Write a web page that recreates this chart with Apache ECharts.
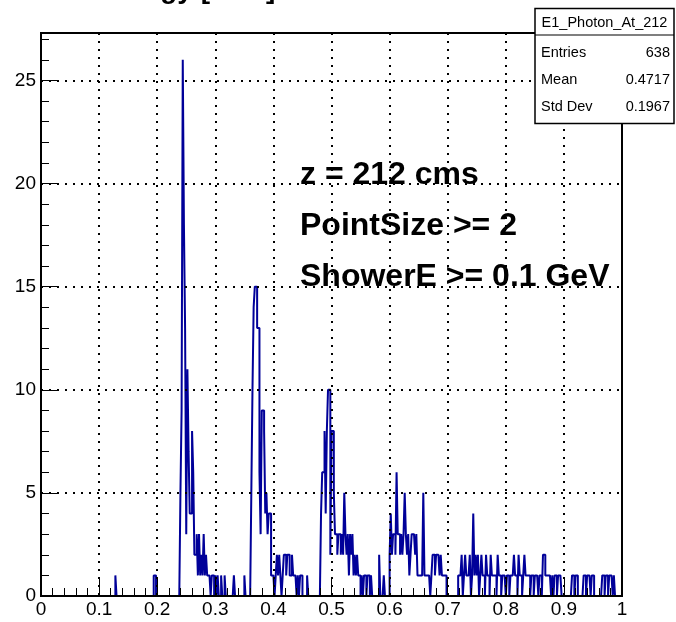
<!DOCTYPE html>
<html>
<head>
<meta charset="utf-8">
<script src="https://cdn.jsdelivr.net/npm/echarts@6/dist/echarts.min.js"></script>
<style>
  html, body { margin: 0; padding: 0; background: #fff; }
  #chart { width: 676px; height: 622px; }
</style>
</head>
<body>
<div id="chart"></div>
<script>
// Histogram E1_Photon_At_212: 500 bins of width 0.002 on [0, 1].
const binWidth = 0.002;
const nBins = 500;

// Isolated single entries: [bin index, count]
const lowBins = [[64, 1], [97, 1], [98, 1]];

// First peak (starts at bin 120, x = 0.240)
const peak1Start = 120;
const peak1Counts = [5, 9, 26, 18, 13, 3, 11, 7, 4, 4, 8, 6, 2, 2, 3, 1, 3, 1, 2, 1, 3, 1, 2, 1, 1, 1, 0, 1, 1];
const peak1Tail = [[150, 1], [152, 1], [155, 1], [158, 1], [166, 1], [175, 1]];

// Second peak (starts at bin 181, x = 0.362)
const peak2Start = 181;
const peak2Counts = [5, 10, 14, 15, 15, 13, 13, 6, 3, 9, 9, 8, 4, 5, 3, 4, 4, 1, 1, 1, 0, 1, 2, 1, 2, 1, 0, 1, 2, 2,
                     1, 2, 2, 1, 1, 2, 1, 1, 1, 0, 1, 0, 1, 1, 0, 0, 0, 0, 1];

// Third peak (starts at bin 241, x = 0.482)
const peak3Start = 241;
const peak3Counts = [4, 6, 6, 8, 4, 8, 10, 10, 2, 8, 8, 5, 3, 3, 2, 3, 3, 2, 3, 2, 5, 3, 2, 3, 1, 3, 2, 3, 1,
                     2, 1, 2, 1, 1, 0, 1, 0, 1, 1, 0, 1, 1, 0, 1, 0, 0, 0, 0, 0, 0, 2, 0, 0, 0, 1];

// Fourth peak (starts at bin 300, x = 0.600)
const peak4Start = 300;
const peak4Counts = [2, 4, 2, 3, 3, 2, 6, 3, 3, 2, 3, 2, 3, 5, 3, 2, 3, 1, 2, 3, 3, 3, 2, 3, 1, 1, 1, 1, 1, 5,
                     1, 1, 1, 1, 1, 0, 1, 2, 2, 1, 2, 2, 2, 1, 2, 1, 1, 1, 1];

// Flat high-energy region (starts at bin 359, x = 0.718)
const plateauStart = 359;
const plateauCounts = [1, 1, 1, 2, 0, 1, 2, 1, 1, 1, 2, 0, 1, 4, 1, 2, 1, 2, 0, 1, 2, 1, 1, 0, 2, 1, 1, 0, 2, 1,
                       1, 1, 1, 0, 2, 1, 1, 0, 1, 1, 1, 0, 1, 1, 0, 1, 1, 1, 2, 1, 1, 0, 2, 1, 1, 0, 1, 2, 1, 1, 1, 1];

// Sparse tail entries: [bin index, count]
const highTail = [[422, 1], [423, 1], [425, 1], [426, 1], [427, 1], [429, 1], [430, 1], [432, 2], [433, 2],
                  [434, 1], [435, 1], [436, 1], [437, 1], [438, 1], [440, 1], [442, 1], [443, 1], [445, 1],
                  [446, 1], [447, 1], [457, 1], [458, 1], [460, 1], [461, 1], [467, 1], [468, 1], [470, 1],
                  [471, 1], [472, 1], [474, 1], [475, 1], [483, 1], [484, 1], [486, 1], [487, 1], [489, 1],
                  [490, 1], [491, 1], [493, 1]];

// Axis ticks
const xTickLabels = ['0', '0.1', '0.2', '0.3', '0.4', '0.5', '0.6', '0.7', '0.8', '0.9', '1'];
const yTickValues = [0, 5, 10, 15, 20, 25];

// Statistics box contents
const statsTitle = 'E1_Photon_At_212';
const statsRows = [['Entries', '638'], ['Mean', '0.4717'], ['Std Dev', '0.1967']];

// Text annotations
const notes = ['z = 212 cms', 'PointSize >= 2', 'ShowerE >= 0.1 GeV'];

// Assemble per-bin counts
const counts = new Array(nBins).fill(0);
function putRun(start, arr) { arr.forEach((c, i) => { counts[start + i] = c; }); }
function putPairs(pairs) { pairs.forEach(([b, c]) => { counts[b] = c; }); }
putPairs(lowBins);
putRun(peak1Start, peak1Counts);
putPairs(peak1Tail);
putRun(peak2Start, peak2Counts);
putRun(peak3Start, peak3Counts);
putRun(peak4Start, peak4Counts);
putRun(plateauStart, plateauCounts);
putPairs(highTail);

// Step outline: each point is a bin's low edge with its count
const outline = counts.map((c, i) => [+(i * binWidth).toFixed(4), c]);
outline.push([1, 0]);

const FONT = '"Liberation Sans", Arial, Helvetica, sans-serif';
const dotted = { color: '#000', width: 2, type: [2, 6] };
const TOP = 100;

const chart = echarts.init(document.getElementById('chart'), null, { renderer: 'canvas' });
chart.setOption({
  animation: false,
  backgroundColor: '#fff',
  grid: {
    left: 41, top: 33, right: 54, bottom: 26,
    show: true, borderColor: '#000', borderWidth: 2, backgroundColor: 'transparent'
  },
  xAxis: {
    type: 'value', min: 0, max: 1, interval: 0.1, z: 5,
    axisLine: { show: true, onZero: false, lineStyle: { color: '#000', width: 2 } },
    axisTick: { show: true, inside: true, length: 17, lineStyle: { color: '#000', width: 1 } },
    minorTick: { show: true, splitNumber: 5, length: 8, lineStyle: { color: '#000', width: 1 } },
    splitLine: { show: true, lineStyle: dotted },
    axisLabel: {
      margin: 4, color: '#000', fontSize: 19, fontFamily: FONT,
      formatter: (v) => xTickLabels[Math.round(v * 10)] || ''
    }
  },
  yAxis: {
    type: 'value', min: 0, max: 27.3, interval: 5, z: 5,
    axisLine: { show: true, onZero: false, lineStyle: { color: '#000', width: 2 } },
    axisTick: { show: true, inside: true, length: 17, lineStyle: { color: '#000', width: 1 } },
    minorTick: { show: true, splitNumber: 5, length: 8, lineStyle: { color: '#000', width: 1 } },
    splitLine: { show: true, lineStyle: dotted },
    axisLabel: {
      margin: 5, color: '#000', fontSize: 19, fontFamily: FONT,
      formatter: (v) => (yTickValues.indexOf(v) >= 0 ? String(v) : '')
    }
  },
  series: [{
    type: 'line',
    step: 'end',
    data: outline,
    symbol: 'none',
    silent: true,
    z: 2,
    lineStyle: { color: '#000099', width: 2 }
  }],
  graphic: [
    {
      type: 'text', left: 98, top: -24, z: TOP,
      style: { text: 'Energy [GeV]', font: 'bold 28px ' + FONT, fill: '#000' }
    },
    ...notes.map((t, i) => ({
      type: 'text', x: 300, y: 175 + i * 51, z: TOP,
      style: { text: t, font: 'bold 32px ' + FONT, fill: '#000', verticalAlign: 'middle' }
    })),
    { type: 'rect', z: TOP, shape: { x: 535, y: 8.5, width: 139, height: 115 },
      style: { fill: '#fff', stroke: '#000', lineWidth: 1.5 } },
    { type: 'line', z: TOP + 1, shape: { x1: 535, y1: 35, x2: 674, y2: 35 },
      style: { stroke: '#000', lineWidth: 1.2 } },
    { type: 'text', z: TOP + 1, x: 604.5, y: 22.5,
      style: { text: statsTitle, font: '14.5px ' + FONT, fill: '#000', align: 'center', verticalAlign: 'middle' } },
    ...statsRows.flatMap(([k, v], i) => [
      { type: 'text', z: TOP + 1, x: 541, y: 53 + i * 27,
        style: { text: k, font: '14.5px ' + FONT, fill: '#000', align: 'left', verticalAlign: 'middle' } },
      { type: 'text', z: TOP + 1, x: 670, y: 53 + i * 27,
        style: { text: v, font: '14.5px ' + FONT, fill: '#000', align: 'right', verticalAlign: 'middle' } }
    ])
  ]
});
</script>
</body>
</html>
